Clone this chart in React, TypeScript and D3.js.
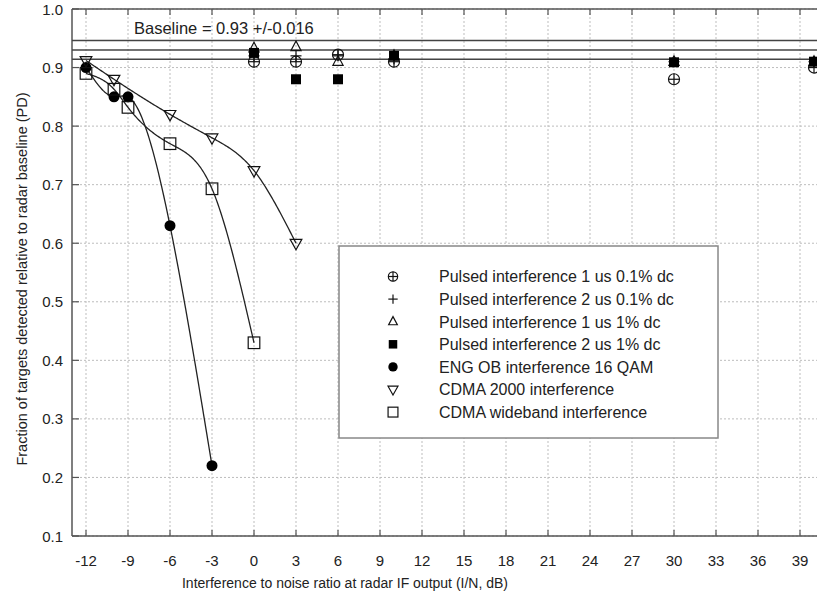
import React from "react";
import * as d3 from "d3";

const W = 817;
const H = 600;

// ---- data ----
const xTickValues = [-12, -9, -6, -3, 0, 3, 6, 9, 12, 15, 18, 21, 24, 27, 30, 33, 36, 39];
const yTickValues = [0.1, 0.2, 0.3, 0.4, 0.5, 0.6, 0.7, 0.8, 0.9, 1.0];
const yTickLabels = ["0.1", "0.2", "0.3", "0.4", "0.5", "0.6", "0.7", "0.8", "0.9", "1.0"];

const baselineValue = 0.93;
const baselineSpread = 0.016;
const baselineLabel = "Baseline = 0.93 +/-0.016";

const pulsedX = [0, 3, 6, 10, 30, 40];
const pulsed1us01 = [0.91, 0.91, 0.922, 0.91, 0.88, 0.9];
const pulsed2us01 = [0.92, 0.92, 0.92, 0.915, 0.91, 0.91];
const pulsed1us1 = [0.933, 0.935, 0.91, 0.92, 0.91, 0.91];
const pulsed2us1 = [0.925, 0.88, 0.88, 0.92, 0.909, 0.91];

const engX = [-12, -10, -9, -6, -3];
const engY = [0.9, 0.85, 0.85, 0.63, 0.22];

const cdma2000X = [-12, -10, -6, -3, 0, 3];
const cdma2000Y = [0.912, 0.88, 0.82, 0.78, 0.724, 0.6];

const cdmaWbX = [-12, -10, -9, -6, -3, 0];
const cdmaWbY = [0.89, 0.863, 0.832, 0.77, 0.693, 0.43];

const legendLabels = [
  "Pulsed interference 1 us 0.1% dc",
  "Pulsed interference 2 us 0.1% dc",
  "Pulsed interference 1 us 1% dc",
  "Pulsed interference 2 us 1% dc",
  "ENG OB interference 16 QAM",
  "CDMA 2000 interference",
  "CDMA wideband interference",
];
const legendSymbols = ["circplus", "plus", "triup", "sqfill", "circfill", "tridown", "sqopen"];

const xTitle = "Interference to noise ratio at radar IF output (I/N, dB)";
const yTitle = "Fraction of targets detected relative to radar baseline (PD)";

// ---- layout ----
const x = d3.scaleLinear().domain([-13, 41]).range([72, 828]);
const y = d3.scaleLinear().domain([0.1, 1.0]).range([536, 9]);
const left = 72, right = 828, top = 9, bottom = 536;

// natural cubic spline in x (like gnuplot smooth csplines)
function spline(xs: number[], ys: number[], per = 40): [number, number][] {
  const n = xs.length;
  const h: number[] = [];
  for (let i = 0; i < n - 1; i++) h.push(xs[i + 1] - xs[i]);
  const M = new Array(n).fill(0);
  if (n > 2) {
    const a: number[] = [], b: number[] = [], c: number[] = [], d: number[] = [];
    for (let i = 1; i < n - 1; i++) {
      a.push(h[i - 1]);
      b.push(2 * (h[i - 1] + h[i]));
      c.push(h[i]);
      d.push(6 * ((ys[i + 1] - ys[i]) / h[i] - (ys[i] - ys[i - 1]) / h[i - 1]));
    }
    const m = b.length;
    for (let i = 1; i < m; i++) {
      const w = a[i] / b[i - 1];
      b[i] -= w * c[i - 1];
      d[i] -= w * d[i - 1];
    }
    const sol = new Array(m).fill(0);
    sol[m - 1] = d[m - 1] / b[m - 1];
    for (let i = m - 2; i >= 0; i--) sol[i] = (d[i] - c[i] * sol[i + 1]) / b[i];
    for (let i = 0; i < m; i++) M[i + 1] = sol[i];
  }
  const pts: [number, number][] = [];
  for (let i = 0; i < n - 1; i++) {
    for (let k = 0; k <= per; k++) {
      if (i > 0 && k === 0) continue;
      const t = xs[i] + (h[i] * k) / per;
      const A = (xs[i + 1] - t) / h[i];
      const B = (t - xs[i]) / h[i];
      const v =
        A * ys[i] + B * ys[i + 1] +
        ((A * A * A - A) * M[i] + (B * B * B - B) * M[i + 1]) * (h[i] * h[i]) / 6;
      pts.push([t, v]);
    }
  }
  return pts;
}

const line = d3.line<[number, number]>().x((d) => x(d[0])).y((d) => y(d[1]));

function Marker({ kind, cx, cy, s = 1 }: { kind: string; cx: number; cy: number; s?: number }) {
  const st = { stroke: "#111", strokeWidth: 1.2, fill: "none" };
  switch (kind) {
    case "circplus": {
      const r = 5.5 * s;
      return (
        <g {...st}>
          <circle cx={cx} cy={cy} r={r} />
          <line x1={cx - r} x2={cx + r} y1={cy} y2={cy} />
          <line x1={cx} x2={cx} y1={cy - r} y2={cy + r} />
        </g>
      );
    }
    case "plus": {
      const r = 5.5 * s;
      return (
        <g {...st}>
          <line x1={cx - r} x2={cx + r} y1={cy} y2={cy} />
          <line x1={cx} x2={cx} y1={cy - r} y2={cy + r} />
        </g>
      );
    }
    case "triup": {
      const r = 6 * s;
      return <path {...st} d={`M${cx},${cy - r}L${cx + r * 0.85},${cy + r * 0.6}L${cx - r * 0.85},${cy + r * 0.6}Z`} />;
    }
    case "tridown": {
      const r = 6.5 * s;
      return <path {...st} d={`M${cx},${cy + r}L${cx + r * 0.9},${cy - r * 0.6}L${cx - r * 0.9},${cy - r * 0.6}Z`} />;
    }
    case "sqfill": {
      const r = 5 * s;
      return <rect x={cx - r} y={cy - r} width={2 * r} height={2 * r} fill="#000" />;
    }
    case "sqopen": {
      const r = 5.8 * s;
      return <rect {...st} x={cx - r} y={cy - r} width={2 * r} height={2 * r} />;
    }
    case "circfill":
    default:
      return <circle cx={cx} cy={cy} r={5.5 * s} fill="#000" />;
  }
}

function Series({ xs, ys, kind }: { xs: number[]; ys: number[]; kind: string }) {
  return (
    <g>
      {xs.map((xv, i) => (
        <Marker key={i} kind={kind} cx={x(xv)} cy={y(ys[i])} />
      ))}
    </g>
  );
}

export default function App() {
  const font = "'Liberation Sans', Arial, Helvetica, sans-serif";
  const baseLines = [baselineValue + baselineSpread, baselineValue, baselineValue - baselineSpread];
  const legX = 339, legY = 246, legW = 379, legH = 192;
  return (
    <svg width={W} height={H} style={{ position: "absolute", left: 0, top: 0, background: "#fff" }} fontFamily={font}>
      <rect width={W} height={H} fill="#fff" />
      {/* grid */}
      <g stroke="#bdbdbd" strokeWidth={1} strokeDasharray="2,2">
        {xTickValues.map((v) => (
          <line key={"gx" + v} x1={x(v)} x2={x(v)} y1={top} y2={bottom} />
        ))}
        {yTickValues.map((v) => (
          <line key={"gy" + v} x1={left} x2={right} y1={y(v)} y2={y(v)} />
        ))}
      </g>
      {/* frame */}
      <g stroke="#555" strokeWidth={1.5} fill="none">
        <line x1={left} x2={left} y1={top} y2={bottom} />
        <line x1={left} x2={right} y1={bottom} y2={bottom} />
        <line x1={left} x2={right} y1={top} y2={top} />
      </g>
      {/* ticks */}
      <g stroke="#555" strokeWidth={1.2}>
        {xTickValues.map((v) => (
          <g key={"tx" + v}>
            <line x1={x(v)} x2={x(v)} y1={bottom} y2={bottom - 6} />
            <line x1={x(v)} x2={x(v)} y1={top} y2={top + 6} />
          </g>
        ))}
        {yTickValues.map((v) => (
          <line key={"ty" + v} x1={left} x2={left + 7} y1={y(v)} y2={y(v)} />
        ))}
      </g>
      {/* tick labels */}
      <g fontSize={15} fill="#222">
        {xTickValues.map((v) => (
          <text key={"lx" + v} x={x(v)} y={566} textAnchor="middle">{String(v)}</text>
        ))}
        {yTickValues.map((v, i) => (
          <text key={"ly" + v} x={63} y={y(v) + 5.5} textAnchor="end">{yTickLabels[i]}</text>
        ))}
      </g>
      {/* axis titles */}
      <text x={345} y={588} fontSize={14} textAnchor="middle" fill="#222">{xTitle}</text>
      <text transform={`translate(27,279) rotate(-90)`} fontSize={14.5} textAnchor="middle" fill="#222">{yTitle}</text>

      {/* baseline lines */}
      <g stroke="#444" strokeWidth={1.5}>
        {baseLines.map((v, i) => (
          <line key={"b" + i} x1={left} x2={right} y1={y(v)} y2={y(v)} />
        ))}
      </g>
      <text x={134} y={34} fontSize={16.5} fill="#222">{baselineLabel}</text>

      {/* curves */}
      <g fill="none" stroke="#222" strokeWidth={1.3}>
        <path d={line(spline(engX, engY)) || ""} />
        <path d={line(spline(cdma2000X, cdma2000Y)) || ""} />
        <path d={line(spline(cdmaWbX, cdmaWbY)) || ""} />
      </g>

      {/* markers */}
      <Series xs={pulsedX} ys={pulsed1us01} kind="circplus" />
      <Series xs={pulsedX} ys={pulsed2us01} kind="plus" />
      <Series xs={pulsedX} ys={pulsed1us1} kind="triup" />
      <Series xs={pulsedX} ys={pulsed2us1} kind="sqfill" />
      <Series xs={engX} ys={engY} kind="circfill" />
      <Series xs={cdma2000X} ys={cdma2000Y} kind="tridown" />
      <Series xs={cdmaWbX} ys={cdmaWbY} kind="sqopen" />

      {/* legend */}
      <rect x={legX} y={legY} width={legW} height={legH} fill="#fff" stroke="#888" strokeWidth={1.5} />
      {legendLabels.map((lab, i) => {
        const cy = 276.5 + i * 22.6;
        return (
          <g key={"leg" + i}>
            <Marker kind={legendSymbols[i]} cx={393} cy={cy} s={0.85} />
            <text x={439} y={cy + 5.8} fontSize={16} fill="#222">{lab}</text>
          </g>
        );
      })}
    </svg>
  );
}
